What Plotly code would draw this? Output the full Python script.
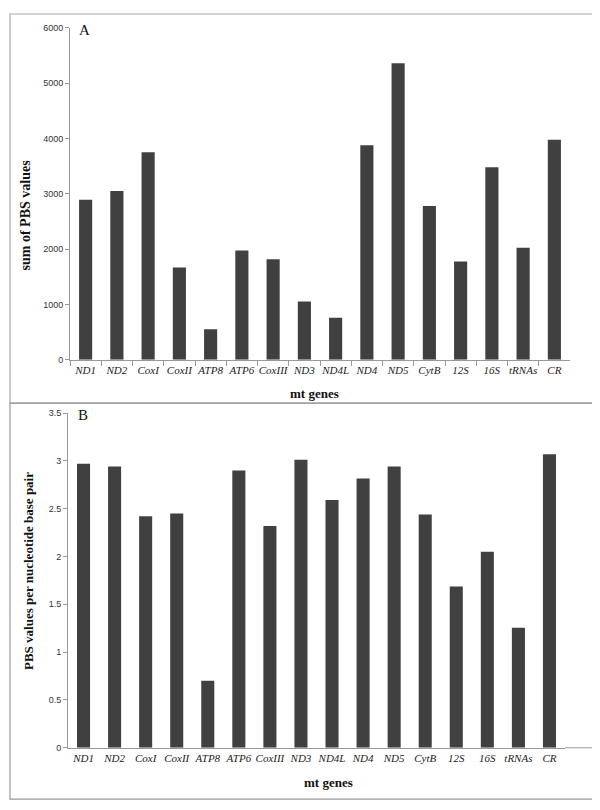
import plotly.graph_objects as go

genes = ["ND1", "ND2", "CoxI", "CoxII", "ATP8", "ATP6", "CoxIII", "ND3",
         "ND4L", "ND4", "ND5", "CytB", "12S", "16S", "tRNAs", "CR"]
sum_pbs = [2890, 3050, 3750, 1665, 550, 1975, 1815, 1050,
           760, 3875, 5360, 2780, 1775, 3480, 2025, 3975]
pbs_per_bp = [2.97, 2.94, 2.42, 2.45, 0.70, 2.90, 2.32, 3.01,
              2.59, 2.815, 2.94, 2.44, 1.686, 2.05, 1.256, 3.07]
ticks_a = [0, 1000, 2000, 3000, 4000, 5000, 6000]
ticks_b = [0, 0.5, 1, 1.5, 2, 2.5, 3, 3.5]
ticklabels_b = ["0", "0.5", "1", "1.5", "2", "2.5", "3", "3.5"]

W, H = 600, 810
def px(x): return x / W
def py(y): return 1 - y / H

BAR = "#404040"
SERIF = "Liberation Serif, Times New Roman, serif"
SANS = "Liberation Sans, Arial, sans-serif"

fig = go.Figure()
fig.add_trace(go.Bar(x=genes, y=sum_pbs, marker=dict(color=BAR, line=dict(width=0)),
                     xaxis="x", yaxis="y", showlegend=False))
fig.add_trace(go.Bar(x=genes, y=pbs_per_bp, marker=dict(color=BAR, line=dict(width=0)),
                     xaxis="x2", yaxis="y2", showlegend=False))

common_x = dict(type="category", showgrid=False, zeroline=False,
                showline=True, linecolor="#999999", linewidth=1, tickangle=0,
                tickfont=dict(family=SERIF, size=11, color="#222222", style="italic"))
common_y = dict(showgrid=False, zeroline=False, showline=True, linecolor="#999999",
                linewidth=1, ticks="outside", ticklen=4, tickcolor="#999999",
                tickfont=dict(family=SANS, size=9, color="#333333"))

fig.update_layout(
    width=W, height=H, margin=dict(l=0, r=0, t=0, b=0),
    paper_bgcolor="white", plot_bgcolor="white", bargap=0.58,
    xaxis=dict(**common_x, domain=[px(62), px(562)], anchor="y",
               ticks="outside", tickson="boundaries", ticklen=5, tickcolor="#999999"),
    yaxis=dict(**common_y, domain=[py(351), py(15)], anchor="x",
               range=[0, 6000], tickvals=ticks_a),
    xaxis2=dict(**common_x, domain=[px(60), px(557)], anchor="y2", ticks=""),
    yaxis2=dict(**common_y, domain=[py(744), py(405)], anchor="x2",
                range=[0, 3.5], tickvals=ticks_b, ticktext=ticklabels_b),
)

shapes = [
    dict(type="rect", xref="paper", yref="paper", x0=px(2), x1=px(587), y0=py(395), y1=py(1),
         line=dict(color="#aaaaaa", width=1.2)),
    dict(type="rect", xref="paper", yref="paper", x0=px(2), x1=px(588), y0=py(796), y1=py(395),
         line=dict(color="#999999", width=1.2)),
    dict(type="line", xref="paper", yref="paper", x0=px(557), x1=px(588), y0=py(744), y1=py(744),
         line=dict(color="#999999", width=1)),
]
fig.update_layout(shapes=shapes)

ann = [
    dict(text="A", x=px(69), y=py(17), xanchor="left", yanchor="middle",
         font=dict(family=SERIF, size=15, color="#111")),
    dict(text="B", x=px(68), y=py(407), xanchor="left", yanchor="middle",
         font=dict(family=SERIF, size=15, color="#111")),
    dict(text="<b>sum of PBS values</b>", x=px(17), y=py(205), textangle=-90,
         xanchor="center", yanchor="middle",
         font=dict(family=SERIF, size=14, color="#111")),
    dict(text="<b>PBS values per nucleotide base pair</b>", x=px(20), y=py(565), textangle=-90,
         xanchor="center", yanchor="middle",
         font=dict(family=SERIF, size=13, color="#111")),
    dict(text="<b>mt genes</b>", x=px(306), y=py(385), xanchor="center", yanchor="middle",
         font=dict(family=SERIF, size=13, color="#111")),
    dict(text="<b>mt genes</b>", x=px(320), y=py(779), xanchor="center", yanchor="middle",
         font=dict(family=SERIF, size=13, color="#111")),
]
for a in ann:
    a.update(xref="paper", yref="paper", showarrow=False)
fig.update_layout(annotations=ann)

fig.write_html("out.html")
